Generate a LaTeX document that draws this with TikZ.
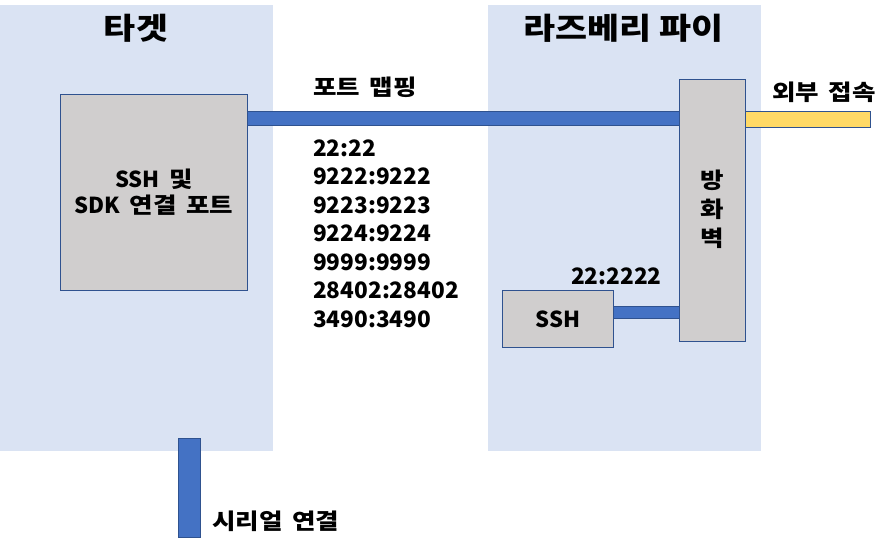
\documentclass[tikz,border=0pt]{standalone}
\usepackage{fontspec}
\setmainfont{Noto Sans CJK KR}
\newfontfamily\hk{Noto Sans CJK KR}[FakeStretch=1.16]
\newcommand{\wsp}{\spaceskip9.5pt\relax}
\newcommand{\hkb}{\hk\bfseries\wsp}
\definecolor{panelc}{HTML}{DAE3F3}
\definecolor{boxc}{HTML}{D0CECE}
\definecolor{edgec}{HTML}{2F528F}
\definecolor{barc}{HTML}{4472C4}
\definecolor{extc}{HTML}{FFD966}
\begin{document}
\begin{tikzpicture}[x=1pt,y=-1pt,
  panel/.style={fill=panelc,inner sep=0pt,outer sep=0pt},
  gbox/.style={fill=boxc,draw=edgec,line width=0.9pt,inner sep=0pt,outer sep=0pt,align=center},
  bar/.style={fill=barc,draw=edgec,line width=0.9pt},
  extbar/.style={fill=extc,draw=edgec,line width=0.9pt},
  title/.style={font=\fontsize{30}{36}\selectfont\bfseries,inner sep=0pt},
  lbl/.style={font=\fontsize{22}{28}\selectfont\bfseries\wsp,inner sep=0pt},
  port/.style={font=\fontsize{22.6}{28}\selectfont\bfseries,inner sep=0pt}]
\useasboundingbox (0,0) rectangle (890,551);
% panels
\node[panel,minimum width=273pt,minimum height=446pt] (tpanel) at (136.5,228) {};
\node[panel,minimum width=273pt,minimum height=446pt] (rpanel) at (624.5,228) {};
\node[title] (ttitle) at (136,28) {\hk\bfseries 타겟};
\node[title] (rtitle) at (623.5,28) {\hk\bfseries 라즈베리 파이};
% boxes
\node[gbox,minimum width=187pt,minimum height=196pt,font=\fontsize{22}{26}\selectfont\bfseries\wsp] (target) at (154,192.5) {SSH {\hkb 및}\\SDK {\hkb 연결 포트}};
\node[gbox,minimum width=66pt,minimum height=262pt] (fw) at (712.5,210.5) {};
\node[lbl,align=center,font=\fontsize{22}{29}\selectfont\hkb] (fwtext) at (712.5,209.5) {방\\화\\벽};
\node[gbox,minimum width=111pt,minimum height=57pt,font=\fontsize{22}{26}\selectfont\bfseries] (ssh) at (558,319) {SSH};
% connectors (bars)
\draw[bar] (target.east |- 0,111.5) rectangle (fw.west |- 0,125.5);
\draw[bar] (ssh.east |- 0,306.5) rectangle (fw.west |- 0,318.5);
\coordinate (extend) at (870.5,127);
\draw[extbar] (fw.east |- 0,111.5) rectangle (extend);
\coordinate (sertop) at (178.5,438.5);
\coordinate (serbot) at (200.5,537.5);
\draw[bar] (sertop) rectangle (serbot);
% labels
\node[lbl,anchor=west] (pm) at (313,87.5) {\hkb 포트 맵핑};
\foreach \t [count=\i from 0] in {22:22,9222:9222,9223:9223,9224:9224,9999:9999,28402:28402,3490:3490}
  \node[port,anchor=base west] (port\i) at (313,156+28.5*\i) {\t};
\node[lbl,anchor=west] (ext) at (772,92) {\hkb 외부 접속};
\node[port,anchor=west] (sshport) at (571,276.5) {22:2222};
\node[lbl,anchor=west] (serial) at (212,521.5) {\hkb 시리얼 연결};
\end{tikzpicture}
\end{document}
